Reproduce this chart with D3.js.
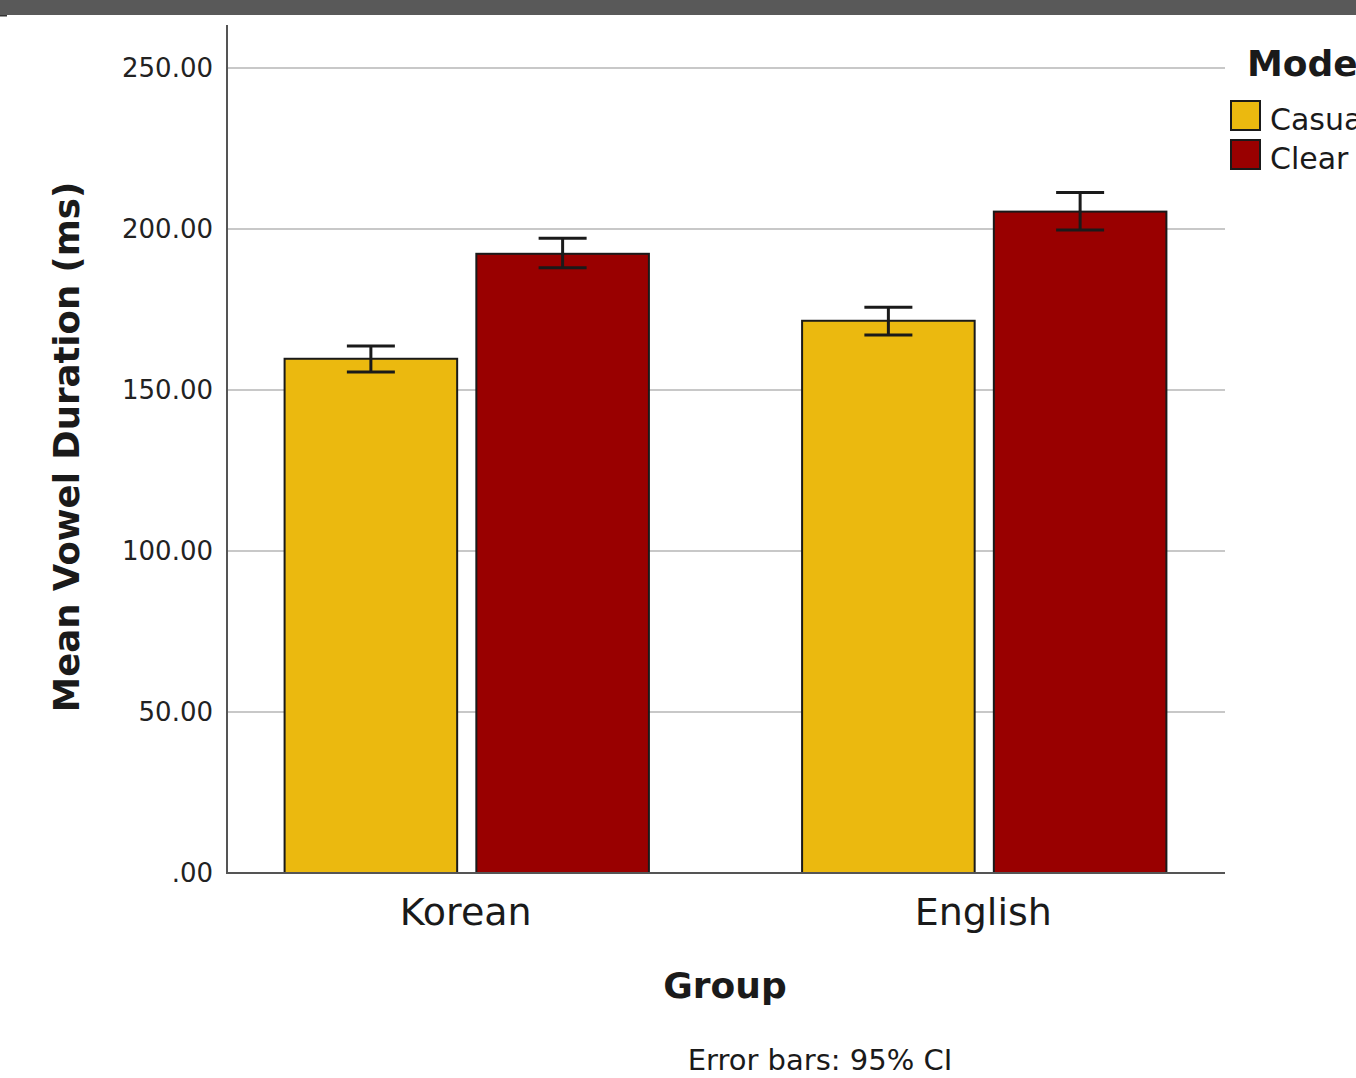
<!DOCTYPE html>
<html>
<head>
<meta charset="utf-8">
<script src="https://cdn.jsdelivr.net/npm/d3@7"></script>
<style>
  html, body { margin: 0; padding: 0; background: #fff; overflow: hidden; }
  svg { display: block; }
</style>
</head>
<body>
<script>
// ---- data ----
const groups = ["Korean", "English"];
const modes = ["Casual", "Clear"];
const casualMeans = [159.7, 171.5];
const clearMeans = [192.3, 205.4];
const casualLower = [155.6, 167.1];
const casualUpper = [163.7, 175.7];
const clearLower = [188.0, 199.7];
const clearUpper = [197.1, 211.3];
const yTicks = [0, 50, 100, 150, 200, 250];
const modeColors = ["#EBB90F", "#990000"];

const W = 1356, H = 1078;
const svg = d3.select("body").append("svg").attr("width", W).attr("height", H);
const FONT = "'DejaVu Sans', Verdana, sans-serif";

// top dark bar
svg.append("rect").attr("x", 0).attr("y", 0).attr("width", W).attr("height", 15).attr("fill", "#595959");
svg.append("rect").attr("x", 0).attr("y", 15).attr("width", 7).attr("height", 1.5).attr("fill", "#333");

const plotLeft = 227, plotRight = 1225, plotBottom = 873, plotTopLine = 25;

const y = d3.scaleLinear().domain([0, 250]).range([873, 68]);
const x0 = d3.scaleBand().domain(groups).range([208, 1243]).paddingInner(0.296).paddingOuter(0.148);
const x1 = d3.scaleBand().domain(modes).range([0, x0.bandwidth()]).paddingInner(0.1).paddingOuter(0);
const color = d3.scaleOrdinal().domain(modes).range(modeColors);

// gridlines
svg.append("g").selectAll("line").data(yTicks.filter(d => d > 0)).join("line")
  .attr("x1", plotLeft).attr("x2", plotRight)
  .attr("y1", d => y(d)).attr("y2", d => y(d))
  .attr("stroke", "#c8c8c8").attr("stroke-width", 2);

// y axis labels
const fmt = v => v === 0 ? ".00" : d3.format(".2f")(v);
const yAxis = svg.append("g").attr("transform", `translate(${plotLeft},0)`)
  .call(d3.axisLeft(y).tickValues(yTicks).tickFormat(fmt).tickSize(0).tickPadding(14));
yAxis.select(".domain").remove();
yAxis.selectAll("text").attr("font-family", FONT).attr("font-size", 26).attr("fill", "#222");

// rows of data
const rows = groups.map((g, i) => ({
  group: g,
  values: [
    { mode: "Casual", mean: casualMeans[i], lo: casualLower[i], hi: casualUpper[i] },
    { mode: "Clear", mean: clearMeans[i], lo: clearLower[i], hi: clearUpper[i] }
  ]
}));

// bars
const gGroups = svg.append("g").selectAll("g").data(rows).join("g")
  .attr("transform", d => `translate(${x0(d.group)},0)`);
gGroups.selectAll("rect").data(d => d.values).join("rect")
  .attr("x", d => x1(d.mode)).attr("width", x1.bandwidth())
  .attr("y", d => y(d.mean)).attr("height", d => y(0) - y(d.mean))
  .attr("fill", d => color(d.mode)).attr("stroke", "#1a1a1a").attr("stroke-width", 2);

// error bars
const capHalf = 24;
const eb = gGroups.selectAll("g.eb").data(d => d.values).join("g").attr("class", "eb");
eb.append("line")
  .attr("x1", d => x1(d.mode) + x1.bandwidth() / 2).attr("x2", d => x1(d.mode) + x1.bandwidth() / 2)
  .attr("y1", d => y(d.lo)).attr("y2", d => y(d.hi))
  .attr("stroke", "#1a1a1a").attr("stroke-width", 3);
["lo", "hi"].forEach(k => {
  eb.append("line")
    .attr("x1", d => x1(d.mode) + x1.bandwidth() / 2 - capHalf).attr("x2", d => x1(d.mode) + x1.bandwidth() / 2 + capHalf)
    .attr("y1", d => y(d[k])).attr("y2", d => y(d[k]))
    .attr("stroke", "#1a1a1a").attr("stroke-width", 3);
});

// axes lines
svg.append("line").attr("x1", plotLeft).attr("x2", plotLeft).attr("y1", plotTopLine).attr("y2", plotBottom)
  .attr("stroke", "#555").attr("stroke-width", 2);
svg.append("line").attr("x1", plotLeft - 1).attr("x2", plotRight).attr("y1", plotBottom).attr("y2", plotBottom)
  .attr("stroke", "#555").attr("stroke-width", 2);

// x category labels
svg.append("g").selectAll("text").data(groups).join("text")
  .attr("x", d => x0(d) + x0.bandwidth() / 2 - 1).attr("y", 925)
  .attr("text-anchor", "middle").attr("font-family", FONT).attr("font-size", 38).attr("fill", "#1a1a1a")
  .text(d => d);

// axis titles
svg.append("text").attr("x", 725).attr("y", 998).attr("text-anchor", "middle")
  .attr("font-family", FONT).attr("font-weight", "bold").attr("font-size", 36).attr("fill", "#1a1a1a")
  .text("Group");
svg.append("text").attr("transform", "translate(79,447) rotate(-90)").attr("text-anchor", "middle")
  .attr("font-family", FONT).attr("font-weight", "bold").attr("font-size", 35.5).attr("fill", "#1a1a1a")
  .text("Mean Vowel Duration (ms)");
svg.append("text").attr("x", 820).attr("y", 1070).attr("text-anchor", "middle")
  .attr("font-family", FONT).attr("font-size", 29).attr("fill", "#1a1a1a")
  .text("Error bars: 95% CI");

// legend (title and labels run past the right edge, as in the reference)
svg.append("text").attr("x", 1247).attr("y", 76)
  .attr("font-family", FONT).attr("font-weight", "bold").attr("font-size", 36).attr("fill", "#1a1a1a")
  .text("Mode");
const leg = svg.append("g").selectAll("g").data(modes).join("g")
  .attr("transform", (d, i) => `translate(1231,${101 + i * 39})`);
leg.append("rect").attr("width", 29).attr("height", 29)
  .attr("fill", d => color(d)).attr("stroke", "#1a1a1a").attr("stroke-width", 2);
leg.append("text").attr("x", 39).attr("y", 29)
  .attr("font-family", FONT).attr("font-size", 30).attr("fill", "#1a1a1a")
  .text(d => d);
</script>
</body>
</html>
